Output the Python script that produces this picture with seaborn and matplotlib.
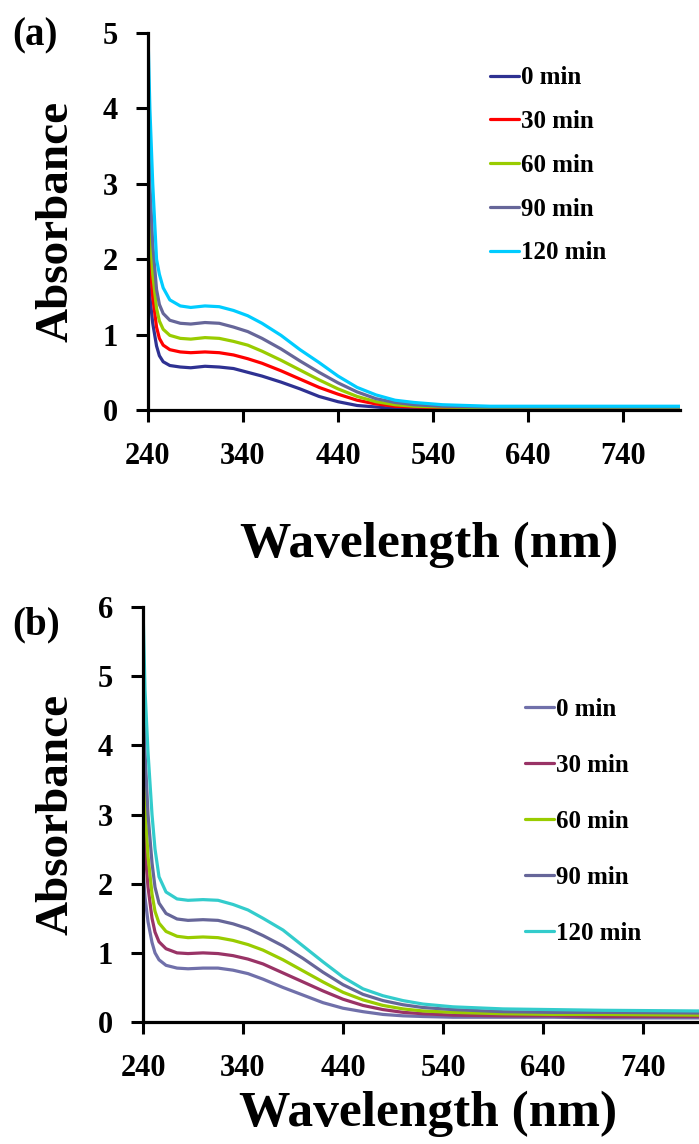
import numpy as np
import pandas as pd
import matplotlib
matplotlib.use('Agg')
import matplotlib.pyplot as plt
import seaborn as sns

wl = [240, 242, 245, 249, 252, 256, 263, 274, 285, 300, 315, 330, 345, 360,
      380, 400, 420, 440, 460, 480, 500, 520, 550, 600, 650, 700, 800]

times = ['0 min', '30 min', '60 min', '90 min', '120 min']

# panel (a)
a_0 = [1.9, 1.5, 1.15, 0.85, 0.72, 0.64, 0.59, 0.57, 0.56, 0.58, 0.57, 0.55, 0.50, 0.45,
       0.37, 0.28, 0.18, 0.11, 0.06, 0.04, 0.02, 0.01, 0.01, 0.01, 0.01, 0.01, 0.01]
a_30 = [2.6, 2.0, 1.5, 1.1, 0.95, 0.86, 0.80, 0.77, 0.76, 0.77, 0.76, 0.73, 0.68, 0.62,
        0.52, 0.41, 0.30, 0.21, 0.13, 0.08, 0.05, 0.04, 0.03, 0.02, 0.02, 0.02, 0.02]
a_60 = [3.1, 2.4, 1.8, 1.35, 1.18, 1.07, 0.99, 0.95, 0.94, 0.96, 0.95, 0.91, 0.86, 0.78,
        0.66, 0.53, 0.40, 0.28, 0.18, 0.11, 0.07, 0.05, 0.04, 0.03, 0.03, 0.03, 0.03]
a_90 = [3.9, 3.0, 2.2, 1.6, 1.4, 1.28, 1.19, 1.15, 1.14, 1.16, 1.15, 1.10, 1.04, 0.95,
        0.81, 0.65, 0.50, 0.36, 0.24, 0.15, 0.10, 0.07, 0.05, 0.04, 0.04, 0.04, 0.04]
a_120 = [5.0, 4.0, 3.0, 2.0, 1.8, 1.62, 1.46, 1.38, 1.36, 1.38, 1.37, 1.32, 1.25, 1.15,
         0.99, 0.80, 0.63, 0.45, 0.30, 0.20, 0.13, 0.10, 0.07, 0.05, 0.05, 0.05, 0.05]

# panel (b)
b_0 = [2.2, 1.8, 1.45, 1.15, 1.0, 0.90, 0.82, 0.78, 0.77, 0.78, 0.78, 0.75, 0.70, 0.62,
       0.50, 0.39, 0.28, 0.20, 0.15, 0.11, 0.09, 0.08, 0.07, 0.07, 0.07, 0.06, 0.06]
b_30 = [3.2, 2.5, 1.95, 1.5, 1.3, 1.16, 1.06, 1.00, 0.99, 1.00, 0.99, 0.96, 0.91, 0.84,
        0.71, 0.58, 0.45, 0.33, 0.24, 0.18, 0.14, 0.12, 0.10, 0.09, 0.09, 0.08, 0.08]
b_60 = [4.0, 3.1, 2.4, 1.85, 1.6, 1.43, 1.31, 1.24, 1.22, 1.23, 1.22, 1.18, 1.12, 1.04,
        0.90, 0.74, 0.58, 0.43, 0.32, 0.24, 0.19, 0.16, 0.14, 0.12, 0.11, 0.11, 0.10]
b_90 = [5.0, 3.9, 3.0, 2.3, 1.95, 1.72, 1.57, 1.49, 1.47, 1.48, 1.47, 1.42, 1.35, 1.25,
        1.10, 0.92, 0.72, 0.54, 0.40, 0.31, 0.25, 0.21, 0.18, 0.15, 0.14, 0.14, 0.13]
b_120 = [6.0, 4.8, 3.9, 3.0, 2.5, 2.1, 1.88, 1.78, 1.76, 1.77, 1.76, 1.70, 1.62, 1.50,
         1.33, 1.10, 0.87, 0.65, 0.48, 0.38, 0.31, 0.26, 0.22, 0.19, 0.18, 0.17, 0.16]

colors_a = ['#2e3192', '#ff0000', '#99cc00', '#666699', '#00ccff']
colors_b = ['#7070aa', '#993366', '#99cc00', '#666699', '#33cccc']


def make_df(series):
    rows = []
    for t, vals in zip(times, series):
        for x, y in zip(wl, vals):
            rows.append({'wl': x, 'abs': y, 'time': t})
    return pd.DataFrame(rows)


df_a = make_df([a_0, a_30, a_60, a_90, a_120])
df_b = make_df([b_0, b_30, b_60, b_90, b_120])

sns.set_style('ticks')
plt.rcParams['font.family'] = ['Liberation Serif', 'DejaVu Serif']
plt.rcParams['font.weight'] = 'bold'
plt.rcParams['axes.labelweight'] = 'bold'
for k in ['text.color', 'axes.labelcolor', 'xtick.color', 'ytick.color', 'axes.edgecolor']:
    plt.rcParams[k] = 'black'

fig = plt.figure(figsize=(6.99, 11.44), dpi=100)
ax1 = fig.add_axes([0.2117, 0.6416, 0.7613, 0.3296])
ax2 = fig.add_axes([0.2046, 0.1066, 0.7954, 0.3628])


def style(ax, df, colors, ymax, xmax, leg_anchor, spacing):
    sns.lineplot(data=df, x='wl', y='abs', hue='time', hue_order=times,
                 palette=colors, linewidth=2.3, ax=ax)
    ax.set_xlim(240, xmax)
    ax.set_ylim(0, ymax)
    ax.set_xticks([240, 340, 440, 540, 640, 740])
    ax.set_yticks(range(0, ymax + 1))
    ax.set_xlabel('Wavelength (nm)', fontsize=37, fontweight='bold')
    ax.set_ylabel('Absorbance', fontsize=34, fontweight='bold')
    ax.tick_params(axis='both', labelsize=22, width=2.2, length=8.5, direction='out', color='black')
    ax.tick_params(axis='y', pad=13)
    ax.tick_params(axis='x', pad=14.5)
    for lab in ax.get_xticklabels() + ax.get_yticklabels():
        lab.set_fontweight('bold')
    sns.despine(ax=ax)
    for s in ['left', 'bottom']:
        ax.spines[s].set_linewidth(2.3)
        ax.spines[s].set_color('black')
    sns.move_legend(ax, 'upper left', bbox_to_anchor=leg_anchor,
                    bbox_transform=fig.transFigure, frameon=False, title=None,
                    handlelength=1.15, handletextpad=0.1,
                    labelspacing=spacing, borderpad=0, borderaxespad=0,
                    prop={'weight': 'bold', 'size': 18})


style(ax1, df_a, colors_a, 5, 800, (0.701, 0.942), 0.83)
style(ax2, df_b, colors_b, 6, 796, (0.751, 0.390), 1.32)

ax1.yaxis.set_label_coords(-0.132, 0.5)
ax2.yaxis.set_label_coords(-0.117, 0.5)
ax1.xaxis.set_label_coords(0.528, -0.295)
ax2.xaxis.set_label_coords(0.513, -0.165)

fig.text(0.017, 0.9685, '(a)', fontsize=28, fontweight='bold', va='center')
fig.text(0.017, 0.4537, '(b)', fontsize=28, fontweight='bold', va='center')

fig.savefig('out.png', dpi=100)
